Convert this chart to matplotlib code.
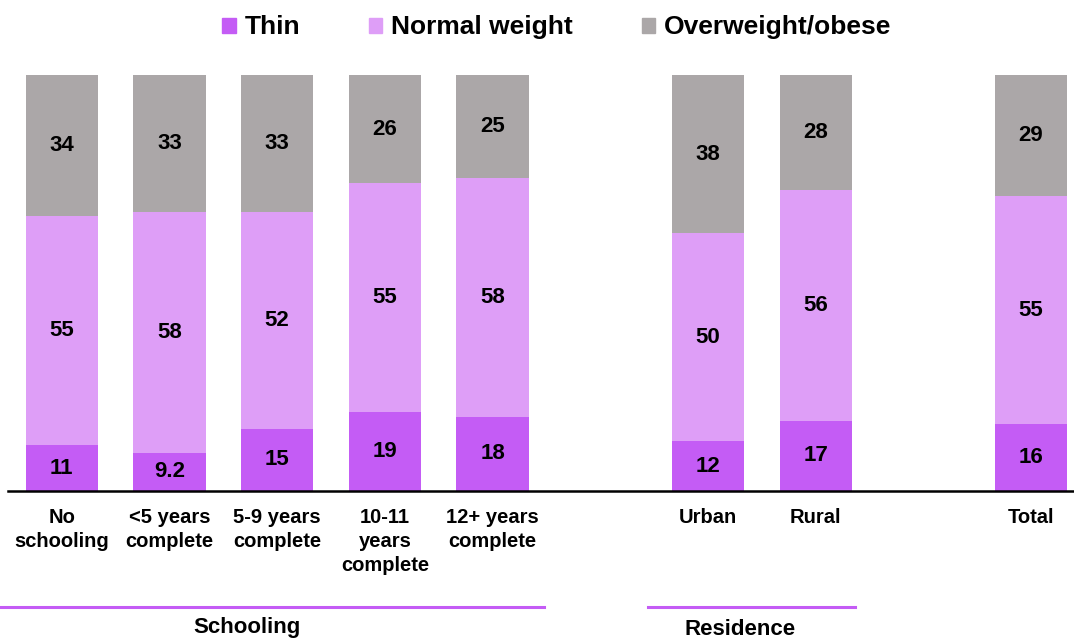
import matplotlib
matplotlib.use("Agg")
import matplotlib.pyplot as plt
import numpy as np
from matplotlib.patches import Patch
import matplotlib.transforms as mtransforms

plt.rcParams['font.family'] = ['Liberation Sans', 'DejaVu Sans']
plt.rcParams['font.weight'] = 'bold'

categories = ["No\nschooling", "<5 years\ncomplete", "5-9 years\ncomplete",
              "10-11\nyears\ncomplete", "12+ years\ncomplete", "Urban", "Rural", "Total"]
thin = [11, 9.2, 15, 19, 18, 12, 17, 16]
normal = [55, 58, 52, 55, 58, 50, 56, 55]
overweight = [34, 33, 33, 26, 25, 38, 28, 29]
thin_labels = ["11", "9.2", "15", "19", "18", "12", "17", "16"]
series_names = ["Thin", "Normal weight", "Overweight/obese"]
group_names = ["Schooling", "Residence"]

colors = ["#C45CF5", "#DE9EF7", "#ABA7A8"]
positions = np.array([0, 1, 2, 3, 4, 6, 7, 9], dtype=float)

fig = plt.figure(figsize=(10.74, 6.39), dpi=100)
ax = fig.add_axes([8/1074, 148/639, 1 - 8/1074, 416/639])

t = np.array(thin, float); n = np.array(normal, float); o = np.array(overweight, float)
tot = t + n + o
ts, ns, os_ = t / tot * 100, n / tot * 100, o / tot * 100

w = 0.67
ax.bar(positions, ts, w, color=colors[0])
ax.bar(positions, ns, w, bottom=ts, color=colors[1])
ax.bar(positions, os_, w, bottom=ts + ns, color=colors[2])

fs = 16
for i, x in enumerate(positions):
    ax.text(x, ts[i] / 2, thin_labels[i], ha='center', va='center', fontsize=fs, fontweight='bold')
    ax.text(x, ts[i] + ns[i] / 2, str(normal[i]), ha='center', va='center', fontsize=fs, fontweight='bold')
    ax.text(x, ts[i] + ns[i] + os_[i] / 2, str(overweight[i]), ha='center', va='center', fontsize=fs, fontweight='bold')

ax.set_xlim(-0.5, 9.40)
ax.set_ylim(0, 100)
ax.set_yticks([])
ax.set_xticks(positions)
ax.set_xticklabels(categories, fontsize=14.5, fontweight='bold', linespacing=1.33)
ax.tick_params(axis='x', length=0, pad=12.5)
for s in ['top', 'right', 'left']:
    ax.spines[s].set_visible(False)
ax.spines['bottom'].set_linewidth(1.8)

trans = mtransforms.blended_transform_factory(ax.transData, ax.transAxes)
ax.plot([-0.63, 4.48], [-0.279, -0.279], color="#C45CF5", lw=2.2, transform=trans, clip_on=False)
ax.plot([5.44, 7.37], [-0.279, -0.279], color="#C45CF5", lw=2.2, transform=trans, clip_on=False)
ax.text(1.72, -0.327, group_names[0], transform=trans, ha='center', va='center', fontsize=16, fontweight='bold')
ax.text(6.3, -0.334, group_names[1], transform=trans, ha='center', va='center', fontsize=16, fontweight='bold')

handles = [Patch(color=c) for c in colors]
fig.legend(handles, series_names, loc='center', bbox_to_anchor=(557/1074, 0.957), ncol=3,
           frameon=False, prop={'weight': 'bold', 'size': 19},
           handlelength=0.5, handleheight=0.5, handletextpad=0.35, columnspacing=2.6)

fig.savefig("out.png", dpi=100)
